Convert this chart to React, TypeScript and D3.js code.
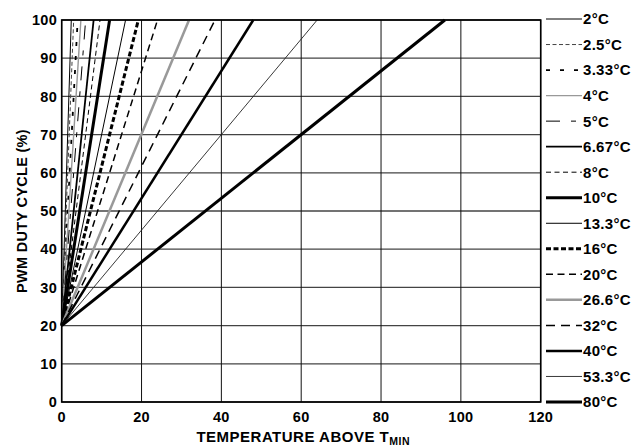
import React from "react";
import * as d3 from "d3";

const rangeLabels = ["2°C", "2.5°C", "3.33°C", "4°C", "5°C", "6.67°C", "8°C", "10°C", "13.3°C", "16°C", "20°C", "26.6°C", "32°C", "40°C", "53.3°C", "80°C"];
// temperature above Tmin at which each curve reaches 100% duty cycle
const endTemps = [2.4, 3, 4, 4.8, 6, 8, 9.6, 12, 16, 19.2, 24, 31.9, 38.4, 48, 64, 96];
const startDuty = 20;
const endDuty = 100;
const xTicks = [0, 20, 40, 60, 80, 100, 120];
const yTicks = [0, 10, 20, 30, 40, 50, 60, 70, 80, 90, 100];

const styles = [
  { c: "#000", w: 1, d: "" },
  { c: "#444", w: 1, d: "4,2.5" },
  { c: "#000", w: 1.8, d: "4,10" },
  { c: "#999", w: 1.4, d: "" },
  { c: "#000", w: 1, d: "14,11,5,11" },
  { c: "#000", w: 1.8, d: "" },
  { c: "#000", w: 1, d: "5,3.5" },
  { c: "#000", w: 3, d: "" },
  { c: "#000", w: 1, d: "" },
  { c: "#000", w: 3, d: "5,2.5" },
  { c: "#000", w: 1.5, d: "7,4.5" },
  { c: "#999", w: 2.5, d: "" },
  { c: "#000", w: 1.5, d: "9,6" },
  { c: "#000", w: 2.5, d: "" },
  { c: "#222", w: 0.9, d: "" },
  { c: "#000", w: 3, d: "" },
];

const W = 633, H = 446;
const L = 61.7, R = 540.7, T = 20, B = 402;
const font = "'Liberation Sans', Arial, Helvetica, sans-serif";

export default function App() {
  const x = d3.scaleLinear().domain([0, 120]).range([L, R]);
  const y = d3.scaleLinear().domain([0, 100]).range([B, T]);
  const line = d3.line<[number, number]>().x(d => x(d[0])).y(d => y(d[1]));
  const legY = d3.scalePoint<number>().domain(d3.range(rangeLabels.length)).range([19, 402]);

  return (
    <svg width={W} height={H} style={{ position: "absolute", left: 0, top: 0, background: "#fff" }}
      fontFamily={font} fontWeight="bold">
      <rect x={0} y={0} width={W} height={H} fill="#fff" />
      {yTicks.map(t => (
        <line key={"h" + t} x1={L} x2={R} y1={y(t)} y2={y(t)} stroke="#444" strokeWidth={1.3} />
      ))}
      {xTicks.map(t => (
        <line key={"v" + t} x1={x(t)} x2={x(t)} y1={T} y2={B} stroke="#111" strokeWidth={1} />
      ))}
      {endTemps.map((e, i) => (
        <path key={"l" + i} d={line([[0, startDuty], [e, endDuty]]) || ""} fill="none"
          stroke={styles[i].c} strokeWidth={styles[i].w} strokeDasharray={styles[i].d || undefined} />
      ))}
      <rect x={L} y={T} width={R - L} height={B - T} fill="none" stroke="#000" strokeWidth={1.6} />
      {yTicks.map(t => (
        <text key={"yt" + t} x={57} y={y(t)} dy="0.36em" textAnchor="end" fontSize={14.5} letterSpacing={0.3}>{t}</text>
      ))}
      {xTicks.map(t => (
        <text key={"xt" + t} x={x(t)} y={422} textAnchor="middle" fontSize={14.5} letterSpacing={0.3}>{t}</text>
      ))}
      <text x={(L + R) / 2 + 2} y={442} textAnchor="middle" fontSize={15} letterSpacing={0.5}>
        TEMPERATURE ABOVE T<tspan fontSize={10.5} dy={3}>MIN</tspan>
      </text>
      <text transform={`translate(27,${(T + B) / 2}) rotate(-90)`} textAnchor="middle" fontSize={14.5} letterSpacing={0.3}>
        PWM DUTY CYCLE (%)
      </text>
      {rangeLabels.map((lab, i) => (
        <g key={"lg" + i}>
          <line x1={546} x2={582} y1={legY(i)} y2={legY(i)} stroke={styles[i].c} strokeWidth={styles[i].w}
            strokeDasharray={styles[i].d || undefined} />
          <text x={583} y={legY(i)} dy="0.36em" fontSize={15} letterSpacing={0.3}>{lab}</text>
        </g>
      ))}
    </svg>
  );
}
